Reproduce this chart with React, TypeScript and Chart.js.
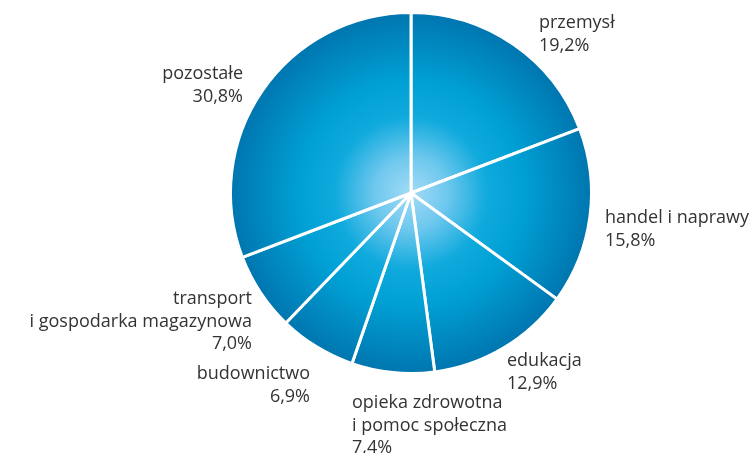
import React, { useEffect, useRef } from "react";
import { Chart, registerables } from "chart.js";

Chart.register(...registerables);

const CATEGORIES = [
  "przemysł",
  "handel i naprawy",
  "edukacja",
  "opieka zdrowotna\ni pomoc społeczna",
  "budownictwo",
  "transport\ni gospodarka magazynowa",
  "pozostałe",
];
const VALUES = [19.2, 15.8, 12.9, 7.4, 6.9, 7.0, 30.8];
const VALUE_LABELS = ["19,2%", "15,8%", "12,9%", "7,4%", "6,9%", "7,0%", "30,8%"];

// label placement: anchor x, first baseline y, alignment
const LABEL_LAYOUT = [
  { x: 539, y: 28, align: "left" },
  { x: 605, y: 223, align: "left" },
  { x: 507, y: 366, align: "left" },
  { x: 352, y: 408, align: "left" },
  { x: 310, y: 379, align: "right" },
  { x: 252, y: 304, align: "right" },
  { x: 243, y: 79, align: "right" },
];

const FONT = '18px "Open Sans", "Noto Sans", sans-serif';
const LINE_H = 22.5;

export default function App() {
  const ref = useRef<HTMLCanvasElement | null>(null);

  useEffect(() => {
    if (!ref.current) return;
    const labelPlugin = {
      id: "sliceLabels",
      afterDraw(chart: any) {
        const ctx = chart.ctx;
        ctx.save();
        ctx.font = FONT;
        ctx.fillStyle = "#333333";
        ctx.textBaseline = "alphabetic";
        CATEGORIES.forEach((cat, i) => {
          const lay = LABEL_LAYOUT[i];
          const lines = cat.split("\n").concat([VALUE_LABELS[i]]);
          ctx.textAlign = lay.align as CanvasTextAlign;
          lines.forEach((ln, j) => ctx.fillText(ln, lay.x, lay.y + j * LINE_H));
        });
        ctx.restore();
      },
    };

    const chart = new Chart(ref.current, {
      type: "pie",
      data: {
        labels: CATEGORIES,
        datasets: [
          {
            data: VALUES,
            borderColor: "#ffffff",
            borderWidth: 3,
            backgroundColor: (c: any) => {
              const ch = c.chart;
              const area = ch.chartArea;
              if (!area) return "#00a2d6";
              const cx = (area.left + area.right) / 2;
              const cy = (area.top + area.bottom) / 2;
              const r = 181;
              const g = ch.ctx.createRadialGradient(cx, cy, 0, cx, cy, r);
              g.addColorStop(0, "#a2dbf6");
              g.addColorStop(0.2, "#6fc8ee");
              g.addColorStop(0.42, "#10aadd");
              g.addColorStop(0.62, "#00a0d4");
              g.addColorStop(1, "#0075af");
              return g;
            },
          },
        ],
      },
      options: {
        responsive: false,
        animation: false,
        radius: 180.5,
        layout: { padding: { left: 232, right: 161, top: 14, bottom: 81 } },
        plugins: {
          legend: { display: false },
          tooltip: { enabled: false },
        },
      } as any,
      plugins: [labelPlugin],
    });
    return () => chart.destroy();
  }, []);

  return (
    <div style={{ position: "absolute", left: 0, top: 0, width: 751, height: 453 }}>
      <canvas ref={ref} width={751} height={453} style={{ display: "block" }} />
    </div>
  );
}
